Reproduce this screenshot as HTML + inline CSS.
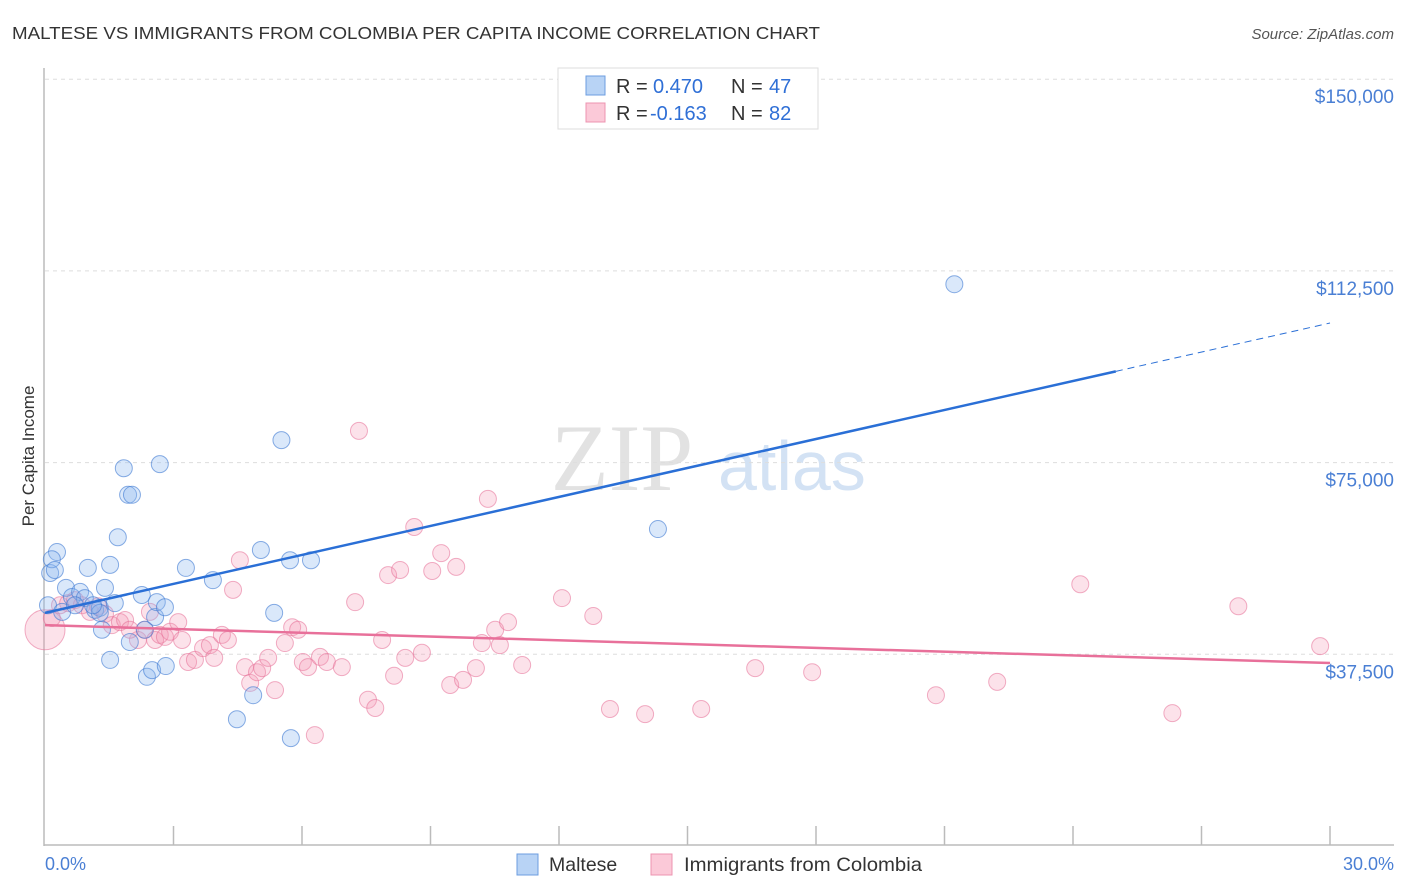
<!DOCTYPE html>
<html><head><meta charset="utf-8"><style>
body{margin:0;background:#fff;font-family:"Liberation Sans",sans-serif}
#c{position:absolute;left:0;top:0}
</style></head><body>
<svg id="c" width="1406" height="892" xmlns="http://www.w3.org/2000/svg">
<text x="12" y="39" font-size="17.5" fill="#333" textLength="808" lengthAdjust="spacingAndGlyphs">MALTESE VS IMMIGRANTS FROM COLOMBIA PER CAPITA INCOME CORRELATION CHART</text>
<text x="1394" y="39" font-size="15" fill="#555" font-style="italic" text-anchor="end">Source: ZipAtlas.com</text>
<text x="622" y="490" font-size="95" fill="#e2e2e2" font-family="Liberation Serif,serif" text-anchor="middle">ZIP</text>
<text x="718" y="490" font-size="70" fill="#d3e2f4">atlas</text>
<g id="grid"></g><g id="axes"></g><g id="pts"></g><g id="trend"></g>
<text transform="translate(34,456) rotate(-90)" font-size="17" fill="#333" text-anchor="middle">Per Capita Income</text>
<text x="45" y="870" font-size="18" fill="#4a7fd4">0.0%</text>
<text x="1394" y="870" font-size="18" fill="#4a7fd4" text-anchor="end">30.0%</text>
<g>
<rect x="558" y="68" width="260" height="61" fill="#fff" stroke="#ddd"/>
<rect x="586" y="76" width="19" height="19" fill="#b8d3f5" stroke="#6c9ee0"/>
<rect x="586" y="103" width="19" height="19" fill="#fbc9d8" stroke="#ec94b0"/>
<text x="616" y="93" font-size="20" fill="#333">R = <tspan x="653" fill="#2f6fd6">0.470</tspan><tspan x="731">N = </tspan><tspan x="769" fill="#2f6fd6">47</tspan></text>
<text x="616" y="120" font-size="20" fill="#333">R = <tspan x="650" fill="#2f6fd6">-0.163</tspan><tspan x="731">N = </tspan><tspan x="769" fill="#2f6fd6">82</tspan></text>
</g>
<g>
<rect x="517" y="854" width="21" height="21" fill="#b8d3f5" stroke="#6c9ee0"/>
<text x="549" y="871" font-size="19.5" fill="#333">Maltese</text>
<rect x="651" y="854" width="21" height="21" fill="#fbc9d8" stroke="#ec94b0"/>
<text x="684" y="871" font-size="19.5" fill="#333" textLength="238" lengthAdjust="spacingAndGlyphs">Immigrants from Colombia</text>
</g>
</svg>
<script>
const yTicks=[37500,75000,112500,150000];
const yTickLabels=["$37,500","$75,000","$112,500","$150,000"];
const xTicks=[0,3,6,9,12,15,18,21,24,27,30];
const malteseX=[0.12,0.28,0.16,0.23,0.49,0.07,0.40,0.63,0.82,0.93,0.70,1.00,1.17,1.28,1.40,1.52,1.63,1.33,1.52,1.70,1.84,1.94,2.03,2.26,2.33,2.38,2.50,2.57,2.61,2.68,2.80,2.82,3.29,3.92,4.48,4.86,5.04,5.35,5.52,5.72,5.74,6.21,14.31,21.23,1.98,1.28,1.12];
const malteseY=[53.4,57.5,56.1,54.0,50.5,47.1,45.8,48.7,49.7,48.5,47.1,54.4,46.2,46.6,50.5,55.0,47.5,42.3,36.4,60.4,73.9,68.7,68.7,49.1,42.3,33.1,34.4,44.8,47.7,74.7,46.7,35.2,54.4,52.0,24.8,29.5,57.9,45.6,79.4,55.9,21.1,55.9,62.0,109.9,39.9,45.6,47.1];
const colX=[0,0.16,0.35,0.54,0.70,0.86,1.05,1.24,1.40,1.56,1.75,1.87,2.17,2.33,2.45,2.57,2.68,2.80,2.92,3.11,3.20,3.34,3.50,3.69,3.85,3.95,4.13,4.27,4.39,4.55,4.67,4.79,4.95,5.07,5.21,5.37,5.60,5.77,5.91,6.02,6.14,6.30,6.42,6.58,6.93,7.24,7.33,7.54,7.71,7.87,8.01,8.15,8.29,8.41,8.62,8.80,9.04,9.25,9.46,9.60,9.76,10.06,10.20,10.34,10.51,10.62,10.81,11.14,12.07,12.80,13.19,14.01,15.32,16.58,17.91,20.80,22.23,24.17,26.32,27.86,29.77,1.98];
const colY=[42.3,44.6,47.1,47.5,48.1,47.1,45.8,46.9,45.4,43.2,43.8,44.2,40.3,42.3,45.8,40.3,41.3,40.9,41.9,43.8,40.3,36.0,36.4,38.7,39.3,36.8,41.3,40.3,50.1,55.9,35.0,31.9,34.0,34.8,36.8,30.5,39.7,42.8,42.3,36.0,35.0,21.7,37.0,36.0,35.0,47.7,81.2,28.6,27.0,40.3,53.0,33.3,54.0,36.8,62.4,37.8,53.8,57.3,31.5,54.6,32.5,34.8,39.7,67.9,42.3,39.3,43.8,35.4,48.5,45.0,26.8,25.8,26.8,34.8,34.0,29.5,32.1,51.2,26.0,46.9,39.1,42.3];
const malteseTrend=[45.6,1.89];
const colTrend=[43.2,-0.247];
const NS="http://www.w3.org/2000/svg";
const X0=45,X1=1330,Y0=846,PPK=191.7/37.5;
const sx=v=>X0+(X1-X0)*v/30;
const sy=k=>Y0-k*PPK;
function mk(t,a,p){const e=document.createElementNS(NS,t);for(const k in a)e.setAttribute(k,a[k]);document.getElementById(p).appendChild(e);return e;}
yTicks.forEach((v,i)=>{
 const l=mk('line',{x1:45,x2:1394,y1:sy(v/1000),y2:sy(v/1000),stroke:'#ddd','stroke-dasharray':'4,4'},'grid');
 
 
 const t=mk('text',{x:1394,y:sy(v/1000)+24,'font-size':19,fill:'#4a7fd4','text-anchor':'end'},'grid');
 t.textContent=yTickLabels[i];
 
 
});
let a=mk('line',{x1:44,x2:44,y1:68,y2:846,stroke:'#bbb','stroke-width':1.5},'axes');


a=mk('line',{x1:44,x2:1394,y1:845,y2:845,stroke:'#bbb','stroke-width':1.5},'axes');


xTicks.slice(1).forEach(v=>{
 const l=mk('line',{x1:sx(v),x2:sx(v),y1:826,y2:845,stroke:'#bbb','stroke-width':1.5},'axes');
 
 
});
colX.forEach((x,i)=>{
 const c=mk('circle',{cx:sx(x),cy:sy(colY[i]),r:i==0?20:8.5,fill:'rgba(244,150,180,0.28)',stroke:'rgba(230,110,150,0.55)','stroke-width':1},'pts');
 
 
});
malteseX.forEach((x,i)=>{
 const c=mk('circle',{cx:sx(x),cy:sy(malteseY[i]),r:8.5,fill:'rgba(140,185,240,0.32)',stroke:'rgba(60,120,210,0.6)','stroke-width':1},'pts');
 
 
});
let t=mk('line',{x1:sx(0),y1:sy(malteseTrend[0]),x2:sx(25),y2:sy(malteseTrend[0]+25*malteseTrend[1]),stroke:'#2a6fd6','stroke-width':2.5},'trend');


t=mk('line',{x1:sx(25),y1:sy(malteseTrend[0]+25*malteseTrend[1]),x2:sx(30),y2:sy(malteseTrend[0]+30*malteseTrend[1]),stroke:'#2a6fd6','stroke-width':1,'stroke-dasharray':'7,5'},'trend');


t=mk('line',{x1:sx(0),y1:sy(colTrend[0]),x2:sx(30),y2:sy(colTrend[0]+30*colTrend[1]),stroke:'#e8709a','stroke-width':2.5},'trend');


</script>
</body></html>
